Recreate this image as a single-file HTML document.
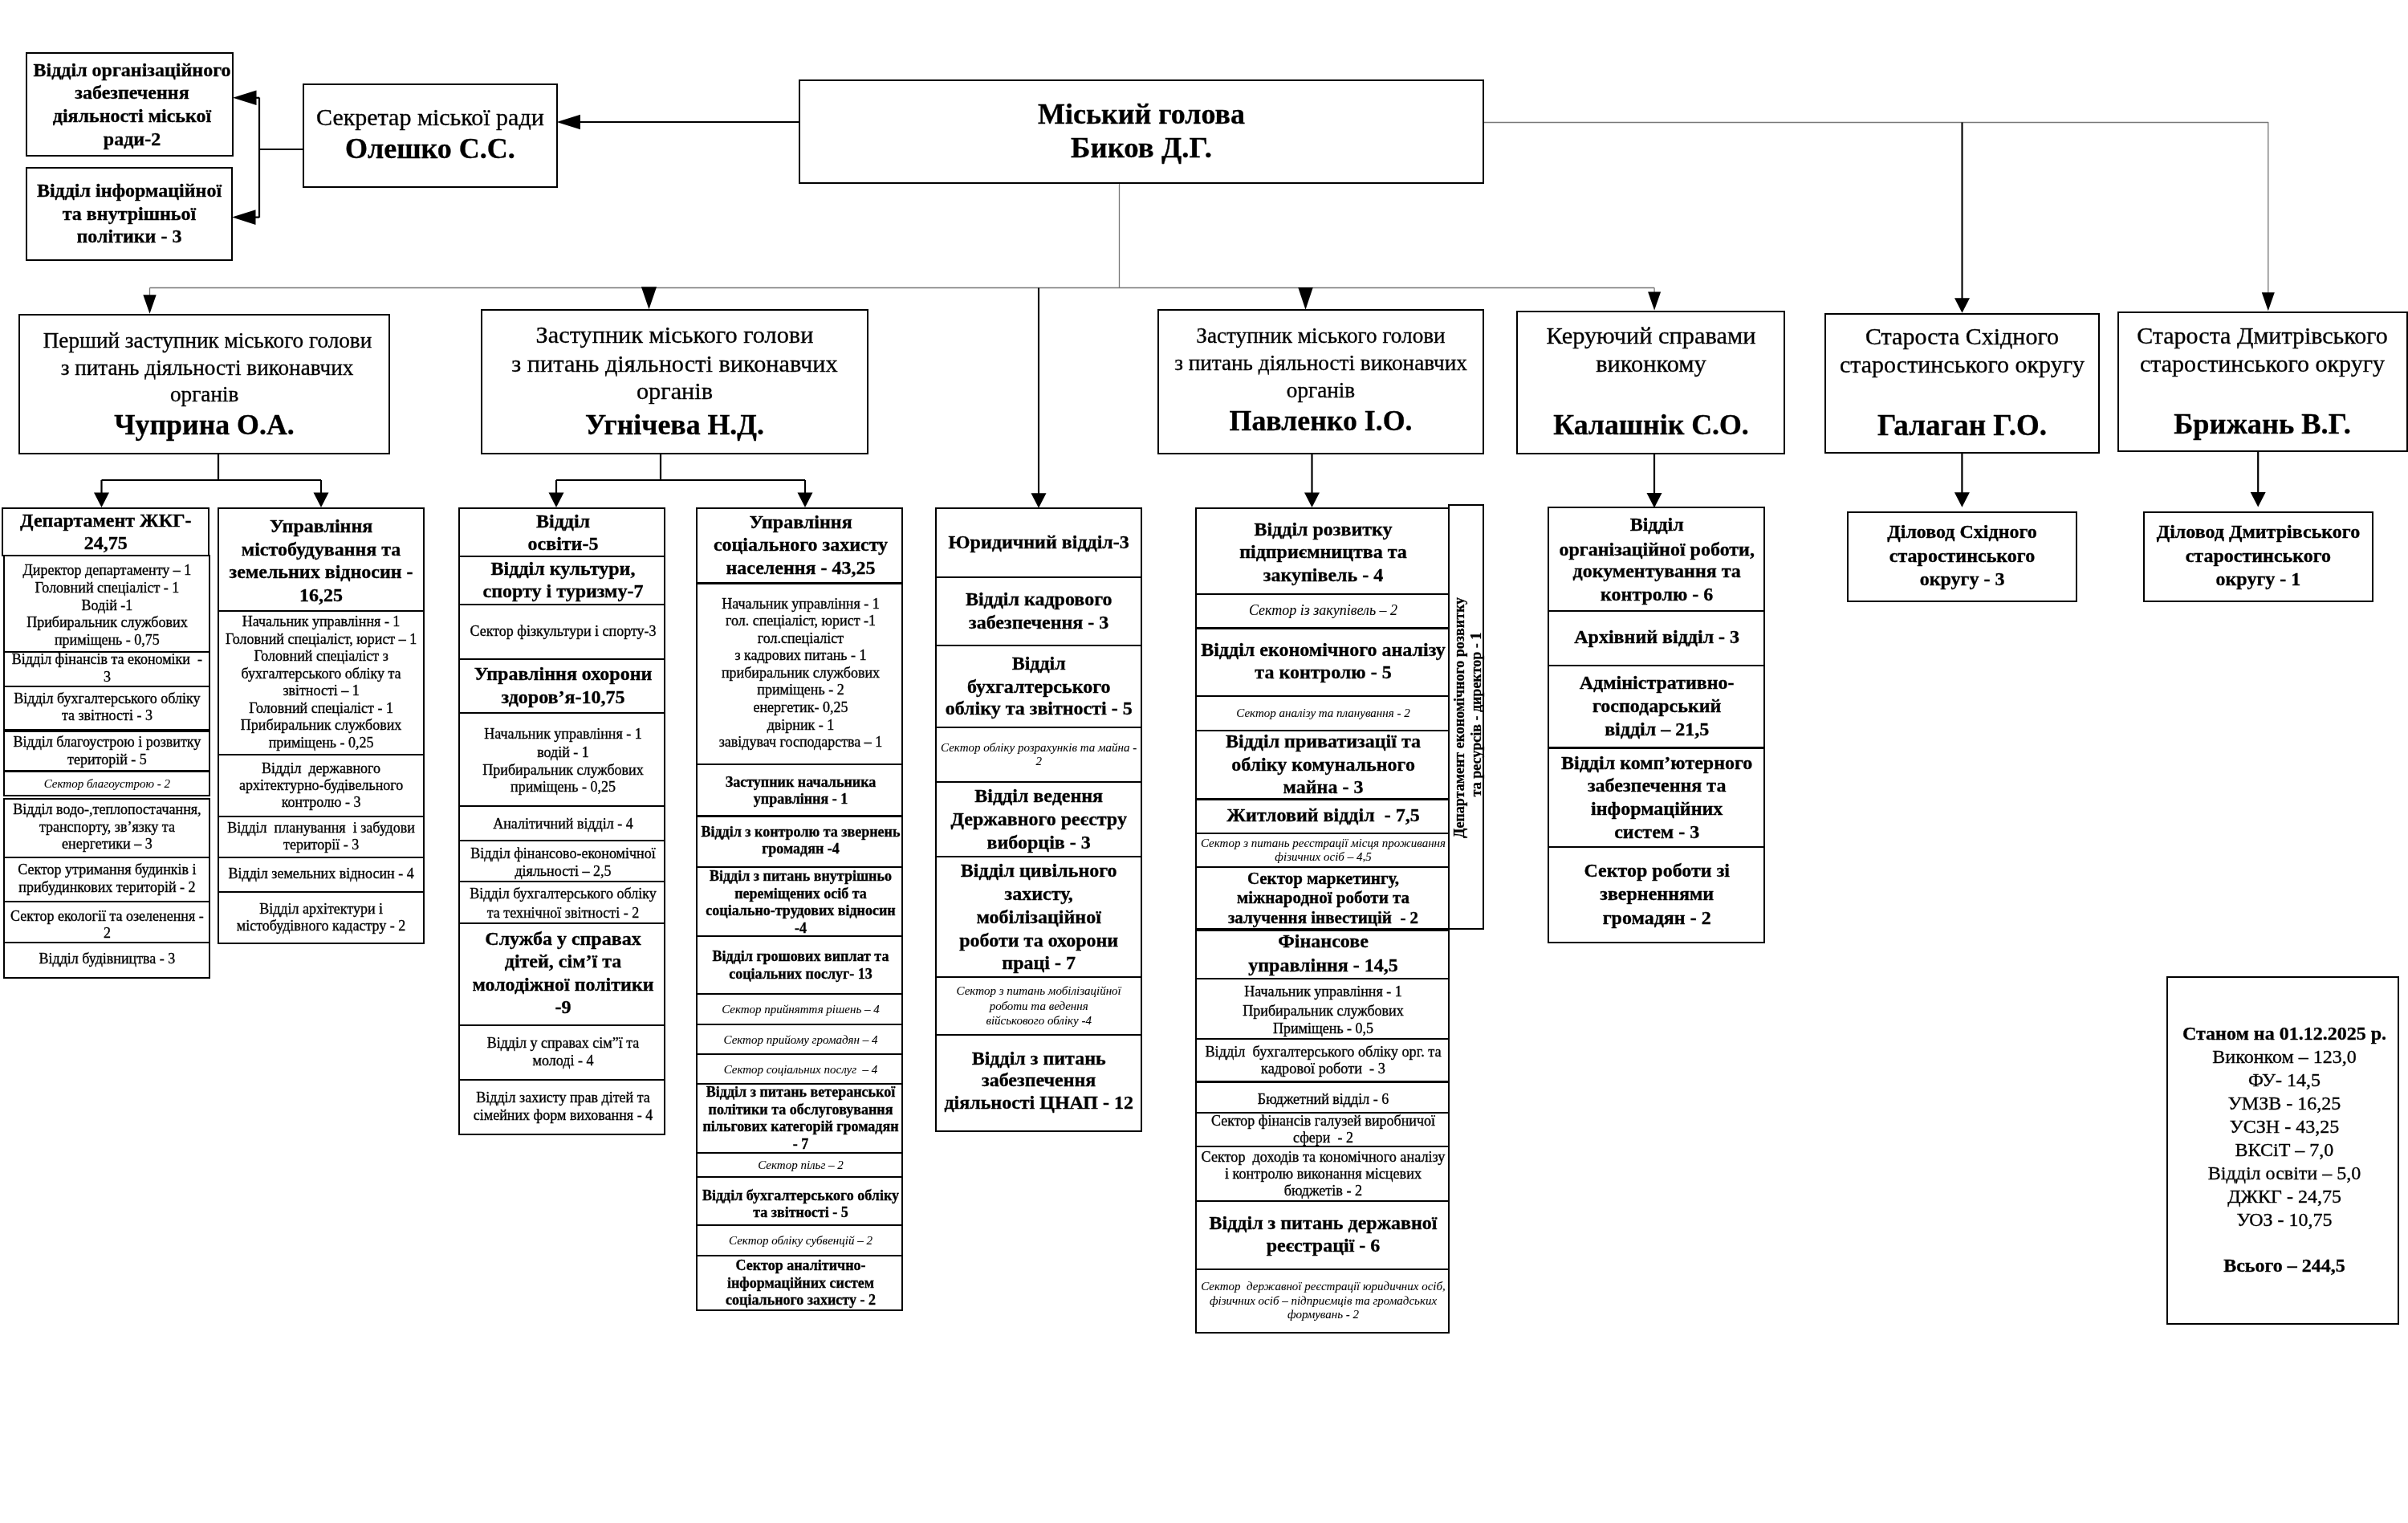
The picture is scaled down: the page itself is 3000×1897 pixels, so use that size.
<!DOCTYPE html>
<html><head><meta charset="utf-8"><style>
html,body{margin:0;padding:0;background:#fff;}
body{width:3000px;height:1897px;position:relative;overflow:hidden;-webkit-font-smoothing:antialiased;font-family:"Liberation Serif",serif;color:#000;}
.b{position:absolute;box-sizing:border-box;border-style:solid;border-color:#000;}
.t{position:absolute;-webkit-text-stroke:0.35px #000;height:0;line-height:0;text-align:center;white-space:pre;}
.v{position:absolute;-webkit-text-stroke:0.3px #000;height:0;line-height:0;text-align:center;white-space:pre;transform:rotate(-90deg);transform-origin:50% 0;}
svg{position:absolute;left:0;top:0;}
.L{position:absolute;left:0;top:0;width:3000px;height:1897px;will-change:transform;}
</style></head><body>
<svg width="3000" height="1897" viewBox="0 0 3000 1897">
<line x1="378" y1="186" x2="323" y2="186" stroke="#000" stroke-width="2.2"/>
<line x1="323" y1="121.5" x2="323" y2="271" stroke="#000" stroke-width="2.2"/>
<line x1="323" y1="121.8" x2="315" y2="121.8" stroke="#000" stroke-width="2.2"/>
<polygon points="290.0,121.8 319.5,112.5 319.5,131.1" fill="#000"/>
<line x1="323" y1="270.6" x2="315" y2="270.6" stroke="#000" stroke-width="2.2"/>
<polygon points="289.0,270.6 318.5,261.3 318.5,279.9" fill="#000"/>
<line x1="996" y1="152" x2="715" y2="152" stroke="#000" stroke-width="2.2"/>
<polygon points="693.5,152.0 723.0,142.7 723.0,161.3" fill="#000"/>
<line x1="1848" y1="152.5" x2="2826" y2="152.5" stroke="#777" stroke-width="1.3"/>
<line x1="2825.8" y1="152" x2="2825.8" y2="366" stroke="#777" stroke-width="1.3"/>
<polygon points="2817.8,364.3 2833.8,364.3 2825.8,387.3" fill="#000"/>
<line x1="2444.5" y1="152.5" x2="2444.5" y2="375" stroke="#000" stroke-width="2.1"/>
<polygon points="2435.0,371.3 2454.0,371.3 2444.5,389.8" fill="#000"/>
<line x1="1394.5" y1="228" x2="1394.5" y2="358.5" stroke="#777" stroke-width="1.3"/>
<line x1="186.5" y1="358.5" x2="2061.1" y2="358.5" stroke="#777" stroke-width="1.3"/>
<line x1="186.5" y1="358.5" x2="186.5" y2="368" stroke="#777" stroke-width="1.3"/>
<polygon points="178.3,367.2 194.7,367.2 186.5,390.8" fill="#000"/>
<polygon points="798.9,357.3 818.1,357.3 808.5,385.3" fill="#000"/>
<polygon points="1617.2,357.9 1635.8,357.9 1626.5,385.7" fill="#000"/>
<line x1="2061.1" y1="358.5" x2="2061.1" y2="365" stroke="#777" stroke-width="1.3"/>
<polygon points="2053.1,363.5 2069.1,363.5 2061.1,386.5" fill="#000"/>
<line x1="1294" y1="358.5" x2="1294" y2="620" stroke="#000" stroke-width="2.1"/>
<polygon points="1284.5,614.3 1303.5,614.3 1294.0,632.8" fill="#000"/>
<line x1="272" y1="565" x2="272" y2="598" stroke="#000" stroke-width="2.2"/>
<line x1="126.5" y1="598" x2="400" y2="598" stroke="#000" stroke-width="2.2"/>
<line x1="126.5" y1="598" x2="126.5" y2="616" stroke="#000" stroke-width="2.2"/>
<polygon points="117.0,613.5 136.0,613.5 126.5,632.0" fill="#000"/>
<line x1="400" y1="598" x2="400" y2="616" stroke="#000" stroke-width="2.2"/>
<polygon points="390.5,613.5 409.5,613.5 400.0,632.0" fill="#000"/>
<line x1="823" y1="565" x2="823" y2="598" stroke="#000" stroke-width="2.2"/>
<line x1="693" y1="598" x2="1003" y2="598" stroke="#000" stroke-width="2.2"/>
<line x1="693" y1="598" x2="693" y2="616" stroke="#000" stroke-width="2.2"/>
<polygon points="683.5,613.5 702.5,613.5 693.0,632.0" fill="#000"/>
<line x1="1003" y1="598" x2="1003" y2="616" stroke="#000" stroke-width="2.2"/>
<polygon points="993.5,613.5 1012.5,613.5 1003.0,632.0" fill="#000"/>
<line x1="1634.5" y1="565" x2="1634.5" y2="616" stroke="#000" stroke-width="2.2"/>
<polygon points="1625.0,613.5 1644.0,613.5 1634.5,632.0" fill="#000"/>
<line x1="2061" y1="565" x2="2061" y2="616" stroke="#000" stroke-width="2.2"/>
<polygon points="2051.5,613.9 2070.5,613.9 2061.0,632.4" fill="#000"/>
<line x1="2444.4" y1="564" x2="2444.4" y2="616" stroke="#000" stroke-width="2.2"/>
<polygon points="2434.9,613.2 2453.9,613.2 2444.4,631.7" fill="#000"/>
<line x1="2813.2" y1="562" x2="2813.2" y2="616" stroke="#000" stroke-width="2.2"/>
<polygon points="2803.7,612.9 2822.7,612.9 2813.2,631.4" fill="#000"/>
</svg>
<div class="L">
<div class="b" style="left:31.9px;top:64.9px;width:259.2px;height:130.2px;border-width:2.2px"></div>
<div class="b" style="left:31.9px;top:207.9px;width:258.2px;height:117.2px;border-width:2.2px"></div>
<div class="b" style="left:376.9px;top:103.9px;width:317.7px;height:129.7px;border-width:2.2px"></div>
<div class="b" style="left:994.9px;top:98.9px;width:854.2px;height:130.2px;border-width:2.2px"></div>
<div class="b" style="left:22.9px;top:390.5px;width:463.2px;height:175.6px;border-width:2.2px"></div>
<div class="b" style="left:598.9px;top:384.9px;width:483.2px;height:181.2px;border-width:2.2px"></div>
<div class="b" style="left:1441.9px;top:385.3px;width:407.2px;height:180.8px;border-width:2.2px"></div>
<div class="b" style="left:1889.4px;top:386.6px;width:335.1px;height:179.3px;border-width:2.2px"></div>
<div class="b" style="left:2272.7px;top:389.7px;width:343.7px;height:175.8px;border-width:2.2px"></div>
<div class="b" style="left:2637.5px;top:388.1px;width:362.1px;height:175.2px;border-width:2.2px"></div>
<div class="b" style="left:1.9px;top:631.9px;width:258.7px;height:61.6px;border-width:2.2px"></div>
<div class="b" style="left:3.9px;top:691.3px;width:258.0px;height:121.8px;border-width:2.2px"></div>
<div class="b" style="left:3.9px;top:810.9px;width:258.0px;height:45.2px;border-width:2.2px"></div>
<div class="b" style="left:3.9px;top:853.9px;width:258.0px;height:55.7px;border-width:2.2px"></div>
<div class="b" style="left:3.9px;top:909.7px;width:258.0px;height:51.9px;border-width:2.2px"></div>
<div class="b" style="left:3.9px;top:959.4px;width:258.0px;height:32.7px;border-width:2.2px"></div>
<div class="b" style="left:3.9px;top:993.5px;width:258.0px;height:75.3px;border-width:2.2px"></div>
<div class="b" style="left:3.9px;top:1066.6px;width:258.0px;height:57.5px;border-width:2.2px"></div>
<div class="b" style="left:3.9px;top:1121.9px;width:258.0px;height:53.2px;border-width:2.2px"></div>
<div class="b" style="left:3.9px;top:1172.9px;width:258.0px;height:45.8px;border-width:2.2px"></div>
<div class="b" style="left:270.5px;top:631.9px;width:258.1px;height:129.8px;border-width:2.2px"></div>
<div class="b" style="left:270.5px;top:759.5px;width:258.1px;height:181.6px;border-width:2.2px"></div>
<div class="b" style="left:270.5px;top:938.9px;width:258.1px;height:78.8px;border-width:2.2px"></div>
<div class="b" style="left:270.5px;top:1015.5px;width:258.1px;height:53.3px;border-width:2.2px"></div>
<div class="b" style="left:270.5px;top:1066.6px;width:258.1px;height:45.3px;border-width:2.2px"></div>
<div class="b" style="left:270.5px;top:1109.7px;width:258.1px;height:66.1px;border-width:2.2px"></div>
<div class="b" style="left:570.9px;top:632.4px;width:258.2px;height:61.4px;border-width:2.2px"></div>
<div class="b" style="left:570.9px;top:691.6px;width:258.2px;height:62.1px;border-width:2.2px"></div>
<div class="b" style="left:570.9px;top:751.5px;width:258.2px;height:70.8px;border-width:2.2px"></div>
<div class="b" style="left:570.9px;top:820.1px;width:258.2px;height:69.2px;border-width:2.2px"></div>
<div class="b" style="left:570.9px;top:887.1px;width:258.2px;height:118.4px;border-width:2.2px"></div>
<div class="b" style="left:570.9px;top:1003.3px;width:258.2px;height:44.8px;border-width:2.2px"></div>
<div class="b" style="left:570.9px;top:1045.9px;width:258.2px;height:53.5px;border-width:2.2px"></div>
<div class="b" style="left:570.9px;top:1097.2px;width:258.2px;height:54.2px;border-width:2.2px"></div>
<div class="b" style="left:570.9px;top:1149.2px;width:258.2px;height:129.1px;border-width:2.2px"></div>
<div class="b" style="left:570.9px;top:1276.1px;width:258.2px;height:70.2px;border-width:2.2px"></div>
<div class="b" style="left:570.9px;top:1344.1px;width:258.2px;height:70.2px;border-width:2.2px"></div>
<div class="b" style="left:866.9px;top:632.4px;width:258.2px;height:95.2px;border-width:2.2px"></div>
<div class="b" style="left:866.9px;top:725.4px;width:258.2px;height:227.7px;border-width:2.2px"></div>
<div class="b" style="left:866.9px;top:950.9px;width:258.2px;height:66.7px;border-width:2.2px"></div>
<div class="b" style="left:866.9px;top:1015.4px;width:258.2px;height:65.9px;border-width:2.2px"></div>
<div class="b" style="left:866.9px;top:1079.1px;width:258.2px;height:88.3px;border-width:2.2px"></div>
<div class="b" style="left:866.9px;top:1165.2px;width:258.2px;height:73.9px;border-width:2.2px"></div>
<div class="b" style="left:866.9px;top:1236.9px;width:258.2px;height:39.9px;border-width:2.2px"></div>
<div class="b" style="left:866.9px;top:1274.6px;width:258.2px;height:39.1px;border-width:2.2px"></div>
<div class="b" style="left:866.9px;top:1311.5px;width:258.2px;height:39.9px;border-width:2.2px"></div>
<div class="b" style="left:866.9px;top:1349.2px;width:258.2px;height:87.6px;border-width:2.2px"></div>
<div class="b" style="left:866.9px;top:1434.6px;width:258.2px;height:32.7px;border-width:2.2px"></div>
<div class="b" style="left:866.9px;top:1465.1px;width:258.2px;height:61.6px;border-width:2.2px"></div>
<div class="b" style="left:866.9px;top:1524.5px;width:258.2px;height:40.5px;border-width:2.2px"></div>
<div class="b" style="left:866.9px;top:1562.8px;width:258.2px;height:70.3px;border-width:2.2px"></div>
<div class="b" style="left:1165.2px;top:632.3px;width:257.9px;height:87.5px;border-width:2.2px"></div>
<div class="b" style="left:1165.2px;top:717.6px;width:257.9px;height:87.1px;border-width:2.2px"></div>
<div class="b" style="left:1165.2px;top:802.5px;width:257.9px;height:104.6px;border-width:2.2px"></div>
<div class="b" style="left:1165.2px;top:904.9px;width:257.9px;height:70.5px;border-width:2.2px"></div>
<div class="b" style="left:1165.2px;top:973.2px;width:257.9px;height:95.2px;border-width:2.2px"></div>
<div class="b" style="left:1165.2px;top:1066.2px;width:257.9px;height:152.3px;border-width:2.2px"></div>
<div class="b" style="left:1165.2px;top:1216.3px;width:257.9px;height:74.1px;border-width:2.2px"></div>
<div class="b" style="left:1165.2px;top:1288.2px;width:257.9px;height:121.5px;border-width:2.2px"></div>
<div class="b" style="left:1488.9px;top:631.9px;width:317.2px;height:109.1px;border-width:2.2px"></div>
<div class="b" style="left:1488.9px;top:738.8px;width:317.2px;height:44.8px;border-width:2.2px"></div>
<div class="b" style="left:1488.9px;top:781.4px;width:317.2px;height:87.0px;border-width:2.2px"></div>
<div class="b" style="left:1488.9px;top:866.2px;width:317.2px;height:45.1px;border-width:2.2px"></div>
<div class="b" style="left:1488.9px;top:909.1px;width:317.2px;height:87.5px;border-width:2.2px"></div>
<div class="b" style="left:1488.9px;top:994.4px;width:317.2px;height:44.4px;border-width:2.2px"></div>
<div class="b" style="left:1488.9px;top:1036.6px;width:317.2px;height:44.9px;border-width:2.2px"></div>
<div class="b" style="left:1488.9px;top:1079.3px;width:317.2px;height:78.5px;border-width:2.2px"></div>
<div class="b" style="left:1488.9px;top:1157.9px;width:317.2px;height:62.0px;border-width:2.2px"></div>
<div class="b" style="left:1488.9px;top:1217.7px;width:317.2px;height:77.0px;border-width:2.2px"></div>
<div class="b" style="left:1488.9px;top:1292.5px;width:317.2px;height:56.1px;border-width:2.2px"></div>
<div class="b" style="left:1488.9px;top:1346.4px;width:317.2px;height:40.7px;border-width:2.2px"></div>
<div class="b" style="left:1488.9px;top:1384.9px;width:317.2px;height:44.2px;border-width:2.2px"></div>
<div class="b" style="left:1488.9px;top:1426.9px;width:317.2px;height:70.5px;border-width:2.2px"></div>
<div class="b" style="left:1488.9px;top:1495.2px;width:317.2px;height:87.3px;border-width:2.2px"></div>
<div class="b" style="left:1488.9px;top:1580.3px;width:317.2px;height:81.0px;border-width:2.2px"></div>
<div class="b" style="left:1804.4px;top:627.9px;width:45.1px;height:530.6px;border-width:2.2px"></div>
<div class="b" style="left:1927.9px;top:631.3px;width:270.7px;height:130.5px;border-width:2.2px"></div>
<div class="b" style="left:1927.9px;top:759.6px;width:270.7px;height:70.2px;border-width:2.2px"></div>
<div class="b" style="left:1927.9px;top:827.6px;width:270.7px;height:105.0px;border-width:2.2px"></div>
<div class="b" style="left:1927.9px;top:930.4px;width:270.7px;height:126.0px;border-width:2.2px"></div>
<div class="b" style="left:1927.9px;top:1054.2px;width:270.7px;height:121.3px;border-width:2.2px"></div>
<div class="b" style="left:2300.9px;top:636.9px;width:287.2px;height:113.0px;border-width:2.2px"></div>
<div class="b" style="left:2669.8px;top:636.9px;width:287.3px;height:113.0px;border-width:2.2px"></div>
<div class="b" style="left:2699.4px;top:1216.2px;width:290.0px;height:434.1px;border-width:2.2px"></div>
<div class="t" style="left:-135.5px;top:86.6px;width:600px;font-size:24px;font-weight:bold;">Відділ організаційного</div>
<div class="t" style="left:-135.5px;top:115.2px;width:600px;font-size:24px;font-weight:bold;">забезпечення</div>
<div class="t" style="left:-135.5px;top:143.9px;width:600px;font-size:24px;font-weight:bold;">діяльності міської</div>
<div class="t" style="left:-135.5px;top:172.5px;width:600px;font-size:24px;font-weight:bold;">ради-2</div>
<div class="t" style="left:-139.0px;top:236.9px;width:600px;font-size:24px;font-weight:bold;">Відділ інформаційної</div>
<div class="t" style="left:-139.0px;top:265.9px;width:600px;font-size:24px;font-weight:bold;">та внутрішньої</div>
<div class="t" style="left:-139.0px;top:294.2px;width:600px;font-size:24px;font-weight:bold;">політики - 3</div>
<div class="t" style="left:235.9px;top:145.9px;width:600px;font-size:30px;">Секретар міської ради</div>
<div class="t" style="left:235.9px;top:185.2px;width:600px;font-size:36px;font-weight:bold;">Олешко С.С.</div>
<div class="t" style="left:1122.0px;top:141.6px;width:600px;font-size:36px;font-weight:bold;">Міський голова</div>
<div class="t" style="left:1122.0px;top:183.6px;width:600px;font-size:36.8px;font-weight:bold;">Биков Д.Г.</div>
<div class="t" style="left:-41.5px;top:424.4px;width:600px;font-size:27.2px;">Перший заступник міського голови</div>
<div class="t" style="left:-42.0px;top:457.8px;width:600px;font-size:27.2px;">з питань діяльності виконавчих</div>
<div class="t" style="left:-45.3px;top:490.7px;width:600px;font-size:27.2px;">органів</div>
<div class="t" style="left:-45.5px;top:528.9px;width:600px;font-size:35.8px;font-weight:bold;">Чуприна О.А.</div>
<div class="t" style="left:540.5px;top:416.6px;width:600px;font-size:30.3px;">Заступник міського голови</div>
<div class="t" style="left:540.5px;top:453.1px;width:600px;font-size:30.3px;">з питань діяльності виконавчих</div>
<div class="t" style="left:540.5px;top:487.4px;width:600px;font-size:30.3px;">органів</div>
<div class="t" style="left:540.5px;top:528.9px;width:600px;font-size:35.8px;font-weight:bold;">Угнічева Н.Д.</div>
<div class="t" style="left:1345.5px;top:418.3px;width:600px;font-size:27.2px;">Заступник міського голови</div>
<div class="t" style="left:1345.5px;top:451.5px;width:600px;font-size:27.2px;">з питань діяльності виконавчих</div>
<div class="t" style="left:1345.5px;top:485.8px;width:600px;font-size:27.2px;">органів</div>
<div class="t" style="left:1345.5px;top:524.4px;width:600px;font-size:35.8px;font-weight:bold;">Павленко І.О.</div>
<div class="t" style="left:1757.0px;top:418.0px;width:600px;font-size:30.4px;">Керуючий справами</div>
<div class="t" style="left:1757.0px;top:452.5px;width:600px;font-size:30.4px;">виконкому</div>
<div class="t" style="left:1757.0px;top:528.7px;width:600px;font-size:35.8px;font-weight:bold;">Калашнік С.О.</div>
<div class="t" style="left:2144.5px;top:419.1px;width:600px;font-size:30px;">Староста Східного</div>
<div class="t" style="left:2144.5px;top:454.4px;width:600px;font-size:30px;">старостинського округу</div>
<div class="t" style="left:2144.5px;top:529.8px;width:600px;font-size:37px;font-weight:bold;">Галаган Г.О.</div>
<div class="t" style="left:2518.5px;top:417.5px;width:600px;font-size:30px;">Староста Дмитрівського</div>
<div class="t" style="left:2518.5px;top:452.9px;width:600px;font-size:30px;">старостинського округу</div>
<div class="t" style="left:2518.5px;top:528.1px;width:600px;font-size:36.4px;font-weight:bold;">Брижань В.Г.</div>
<div class="t" style="left:-168.2px;top:647.8px;width:600px;font-size:24px;font-weight:bold;">Департамент ЖКГ-</div>
<div class="t" style="left:-168.2px;top:676.3px;width:600px;font-size:24px;font-weight:bold;">24,75</div>
<div class="t" style="left:-166.6px;top:709.9px;width:600px;font-size:18px;">Директор департаменту – 1</div>
<div class="t" style="left:-166.6px;top:731.7px;width:600px;font-size:18px;">Головний спеціаліст - 1</div>
<div class="t" style="left:-166.6px;top:753.5px;width:600px;font-size:18px;">Водій -1</div>
<div class="t" style="left:-166.6px;top:775.3px;width:600px;font-size:18px;">Прибиральник службових</div>
<div class="t" style="left:-166.6px;top:797.1px;width:600px;font-size:18px;">приміщень - 0,75</div>
<div class="t" style="left:-166.6px;top:821.3px;width:600px;font-size:18px;">Відділ фінансів та економіки  -</div>
<div class="t" style="left:-166.6px;top:842.7px;width:600px;font-size:18px;">3</div>
<div class="t" style="left:-166.6px;top:869.6px;width:600px;font-size:18px;">Відділ бухгалтерського обліку</div>
<div class="t" style="left:-166.6px;top:890.9px;width:600px;font-size:18px;">та звітності - 3</div>
<div class="t" style="left:-166.6px;top:924.2px;width:600px;font-size:18px;">Відділ благоустрою і розвитку</div>
<div class="t" style="left:-166.6px;top:945.5px;width:600px;font-size:18px;">територій - 5</div>
<div class="t" style="left:-166.6px;top:975.6px;width:600px;font-size:15px;font-style:italic;-webkit-text-stroke:0.08px #000;">Сектор благоустрою - 2</div>
<div class="t" style="left:-166.6px;top:1008.3px;width:600px;font-size:18px;">Відділ водо-,теплопостачання,</div>
<div class="t" style="left:-166.6px;top:1029.6px;width:600px;font-size:18px;">транспорту, зв’язку та</div>
<div class="t" style="left:-166.6px;top:1050.9px;width:600px;font-size:18px;">енергетики – 3</div>
<div class="t" style="left:-166.6px;top:1083.4px;width:600px;font-size:18px;">Сектор утримання будинків і</div>
<div class="t" style="left:-166.6px;top:1104.7px;width:600px;font-size:18px;">прибудинкових територій - 2</div>
<div class="t" style="left:-166.6px;top:1140.6px;width:600px;font-size:18px;">Сектор екології та озеленення -</div>
<div class="t" style="left:-166.6px;top:1161.9px;width:600px;font-size:18px;">2</div>
<div class="t" style="left:-166.6px;top:1194.4px;width:600px;font-size:18px;">Відділ будівництва - 3</div>
<div class="t" style="left:100.1px;top:654.5px;width:600px;font-size:24px;font-weight:bold;">Управління</div>
<div class="t" style="left:100.1px;top:683.7px;width:600px;font-size:24px;font-weight:bold;">містобудування та</div>
<div class="t" style="left:100.1px;top:712.1px;width:600px;font-size:24px;font-weight:bold;">земельних відносин -</div>
<div class="t" style="left:100.1px;top:741.3px;width:600px;font-size:24px;font-weight:bold;">16,25</div>
<div class="t" style="left:100.1px;top:774.2px;width:600px;font-size:18px;">Начальник управління - 1</div>
<div class="t" style="left:100.1px;top:795.7px;width:600px;font-size:18px;">Головний спеціаліст, юрист – 1</div>
<div class="t" style="left:100.1px;top:817.2px;width:600px;font-size:18px;">Головний спеціаліст з</div>
<div class="t" style="left:100.1px;top:838.6px;width:600px;font-size:18px;">бухгалтерського обліку та</div>
<div class="t" style="left:100.1px;top:860.1px;width:600px;font-size:18px;">звітності – 1</div>
<div class="t" style="left:100.1px;top:881.6px;width:600px;font-size:18px;">Головний спеціаліст - 1</div>
<div class="t" style="left:100.1px;top:903.0px;width:600px;font-size:18px;">Прибиральник службових</div>
<div class="t" style="left:100.1px;top:924.5px;width:600px;font-size:18px;">приміщень - 0,25</div>
<div class="t" style="left:100.1px;top:956.7px;width:600px;font-size:18px;">Відділ  державного</div>
<div class="t" style="left:100.1px;top:978.0px;width:600px;font-size:18px;">архітектурно-будівельного</div>
<div class="t" style="left:100.1px;top:999.3px;width:600px;font-size:18px;">контролю - 3</div>
<div class="t" style="left:100.1px;top:1030.7px;width:600px;font-size:18px;">Відділ  планування  і забудови</div>
<div class="t" style="left:100.1px;top:1052.0px;width:600px;font-size:18px;">території - 3</div>
<div class="t" style="left:100.1px;top:1087.9px;width:600px;font-size:18px;">Відділ земельних відносин - 4</div>
<div class="t" style="left:100.1px;top:1131.6px;width:600px;font-size:18px;">Відділ архітектури і</div>
<div class="t" style="left:100.1px;top:1152.9px;width:600px;font-size:18px;">містобудівного кадастру - 2</div>
<div class="t" style="left:401.5px;top:648.6px;width:600px;font-size:24px;font-weight:bold;">Відділ</div>
<div class="t" style="left:401.5px;top:677.0px;width:600px;font-size:24px;font-weight:bold;">освіти-5</div>
<div class="t" style="left:401.5px;top:707.8px;width:600px;font-size:24px;font-weight:bold;">Відділ культури,</div>
<div class="t" style="left:401.5px;top:736.2px;width:600px;font-size:24px;font-weight:bold;">спорту і туризму-7</div>
<div class="t" style="left:401.5px;top:785.5px;width:600px;font-size:18px;">Сектор фізкультури і спорту-3</div>
<div class="t" style="left:401.5px;top:839.1px;width:600px;font-size:24px;font-weight:bold;">Управління охорони</div>
<div class="t" style="left:401.5px;top:867.5px;width:600px;font-size:24px;font-weight:bold;">здоров’я-10,75</div>
<div class="t" style="left:401.5px;top:913.9px;width:600px;font-size:18px;">Начальник управління - 1</div>
<div class="t" style="left:401.5px;top:937.4px;width:600px;font-size:18px;">водій - 1</div>
<div class="t" style="left:401.5px;top:958.9px;width:600px;font-size:18px;">Прибиральник службових</div>
<div class="t" style="left:401.5px;top:980.4px;width:600px;font-size:18px;">приміщень - 0,25</div>
<div class="t" style="left:401.5px;top:1026.4px;width:600px;font-size:18px;">Аналітичний відділ - 4</div>
<div class="t" style="left:401.5px;top:1062.6px;width:600px;font-size:18px;">Відділ фінансово-економічної</div>
<div class="t" style="left:401.5px;top:1085.3px;width:600px;font-size:18px;">діяльності – 2,5</div>
<div class="t" style="left:401.5px;top:1113.4px;width:600px;font-size:18px;">Відділ бухгалтерського обліку</div>
<div class="t" style="left:401.5px;top:1136.6px;width:600px;font-size:18px;">та технічної звітності - 2</div>
<div class="t" style="left:401.5px;top:1168.8px;width:600px;font-size:24px;font-weight:bold;">Служба у справах</div>
<div class="t" style="left:401.5px;top:1197.2px;width:600px;font-size:24px;font-weight:bold;">дітей, сім’ї та</div>
<div class="t" style="left:401.5px;top:1225.6px;width:600px;font-size:24px;font-weight:bold;">молодіжної політики</div>
<div class="t" style="left:401.5px;top:1254.0px;width:600px;font-size:24px;font-weight:bold;">-9</div>
<div class="t" style="left:401.5px;top:1298.9px;width:600px;font-size:18px;">Відділ у справах сім”ї та</div>
<div class="t" style="left:401.5px;top:1320.9px;width:600px;font-size:18px;">молоді - 4</div>
<div class="t" style="left:401.5px;top:1367.1px;width:600px;font-size:18px;">Відділ захисту прав дітей та</div>
<div class="t" style="left:401.5px;top:1388.9px;width:600px;font-size:18px;">сімейних форм виховання - 4</div>
<div class="t" style="left:697.5px;top:649.8px;width:600px;font-size:24px;font-weight:bold;">Управління</div>
<div class="t" style="left:697.5px;top:678.2px;width:600px;font-size:24px;font-weight:bold;">соціального захисту</div>
<div class="t" style="left:697.5px;top:706.6px;width:600px;font-size:24px;font-weight:bold;">населення - 43,25</div>
<div class="t" style="left:697.5px;top:751.7px;width:600px;font-size:18px;">Начальник управління - 1</div>
<div class="t" style="left:697.5px;top:773.3px;width:600px;font-size:18px;">гол. спеціаліст, юрист -1</div>
<div class="t" style="left:697.5px;top:794.8px;width:600px;font-size:18px;">гол.спеціаліст</div>
<div class="t" style="left:697.5px;top:816.3px;width:600px;font-size:18px;">з кадрових питань - 1</div>
<div class="t" style="left:697.5px;top:837.9px;width:600px;font-size:18px;">прибиральник службових</div>
<div class="t" style="left:697.5px;top:859.4px;width:600px;font-size:18px;">приміщень - 2</div>
<div class="t" style="left:697.5px;top:881.0px;width:600px;font-size:18px;">енергетик- 0,25</div>
<div class="t" style="left:697.5px;top:902.5px;width:600px;font-size:18px;">двірник - 1</div>
<div class="t" style="left:697.5px;top:924.0px;width:600px;font-size:18px;">завідувач господарства – 1</div>
<div class="t" style="left:697.5px;top:973.5px;width:600px;font-size:18px;font-weight:bold;">Заступник начальника</div>
<div class="t" style="left:697.5px;top:994.7px;width:600px;font-size:18px;font-weight:bold;">управління - 1</div>
<div class="t" style="left:697.5px;top:1035.5px;width:600px;font-size:18px;font-weight:bold;">Відділ з контролю та звернень</div>
<div class="t" style="left:697.5px;top:1057.2px;width:600px;font-size:18px;font-weight:bold;">громадян -4</div>
<div class="t" style="left:697.5px;top:1091.3px;width:600px;font-size:18px;font-weight:bold;">Відділ з питань внутрішньо</div>
<div class="t" style="left:697.5px;top:1112.7px;width:600px;font-size:18px;font-weight:bold;">переміщених осіб та</div>
<div class="t" style="left:697.5px;top:1134.1px;width:600px;font-size:18px;font-weight:bold;">соціально-трудових відносин</div>
<div class="t" style="left:697.5px;top:1155.5px;width:600px;font-size:18px;font-weight:bold;">-4</div>
<div class="t" style="left:697.5px;top:1191.0px;width:600px;font-size:18px;font-weight:bold;">Відділ грошових виплат та</div>
<div class="t" style="left:697.5px;top:1213.1px;width:600px;font-size:18px;font-weight:bold;">соціальних послуг- 13</div>
<div class="t" style="left:697.5px;top:1256.9px;width:600px;font-size:15px;font-style:italic;-webkit-text-stroke:0.08px #000;">Сектор прийняття рішень – 4</div>
<div class="t" style="left:697.5px;top:1294.7px;width:600px;font-size:15px;font-style:italic;-webkit-text-stroke:0.08px #000;">Сектор прийому громадян – 4</div>
<div class="t" style="left:697.5px;top:1331.6px;width:600px;font-size:15px;font-style:italic;-webkit-text-stroke:0.08px #000;">Сектор соціальних послуг  – 4</div>
<div class="t" style="left:697.5px;top:1360.4px;width:600px;font-size:18px;font-weight:bold;">Відділ з питань ветеранської</div>
<div class="t" style="left:697.5px;top:1381.8px;width:600px;font-size:18px;font-weight:bold;">політики та обслуговування</div>
<div class="t" style="left:697.5px;top:1403.2px;width:600px;font-size:18px;font-weight:bold;">пільгових категорій громадян</div>
<div class="t" style="left:697.5px;top:1424.6px;width:600px;font-size:18px;font-weight:bold;">- 7</div>
<div class="t" style="left:697.5px;top:1450.9px;width:600px;font-size:15px;font-style:italic;-webkit-text-stroke:0.08px #000;">Сектор пільг – 2</div>
<div class="t" style="left:697.5px;top:1488.6px;width:600px;font-size:18px;font-weight:bold;">Відділ бухгалтерського обліку</div>
<div class="t" style="left:697.5px;top:1509.9px;width:600px;font-size:18px;font-weight:bold;">та звітності - 5</div>
<div class="t" style="left:697.5px;top:1544.5px;width:600px;font-size:15px;font-style:italic;-webkit-text-stroke:0.08px #000;">Сектор обліку субвенцій – 2</div>
<div class="t" style="left:697.5px;top:1576.1px;width:600px;font-size:18px;font-weight:bold;">Сектор аналітично-</div>
<div class="t" style="left:697.5px;top:1597.5px;width:600px;font-size:18px;font-weight:bold;">інформаційних систем</div>
<div class="t" style="left:697.5px;top:1618.9px;width:600px;font-size:18px;font-weight:bold;">соціального захисту - 2</div>
<div class="t" style="left:994.2px;top:675.4px;width:600px;font-size:24px;font-weight:bold;">Юридичний відділ-3</div>
<div class="t" style="left:994.2px;top:745.6px;width:600px;font-size:24px;font-weight:bold;">Відділ кадрового</div>
<div class="t" style="left:994.2px;top:774.5px;width:600px;font-size:24px;font-weight:bold;">забезпечення - 3</div>
<div class="t" style="left:994.2px;top:825.7px;width:600px;font-size:24px;font-weight:bold;">Відділ</div>
<div class="t" style="left:994.2px;top:854.6px;width:600px;font-size:24px;font-weight:bold;">бухгалтерського</div>
<div class="t" style="left:994.2px;top:882.2px;width:600px;font-size:24px;font-weight:bold;">обліку та звітності - 5</div>
<div class="t" style="left:994.2px;top:931.1px;width:600px;font-size:15px;font-style:italic;-webkit-text-stroke:0.08px #000;">Сектор обліку розрахунків та майна -</div>
<div class="t" style="left:994.2px;top:948.2px;width:600px;font-size:15px;font-style:italic;-webkit-text-stroke:0.08px #000;">2</div>
<div class="t" style="left:994.2px;top:991.2px;width:600px;font-size:24px;font-weight:bold;">Відділ ведення</div>
<div class="t" style="left:994.2px;top:1019.9px;width:600px;font-size:24px;font-weight:bold;">Державного реєстру</div>
<div class="t" style="left:994.2px;top:1048.6px;width:600px;font-size:24px;font-weight:bold;">виборців - 3</div>
<div class="t" style="left:994.2px;top:1084.2px;width:600px;font-size:24px;font-weight:bold;">Відділ цивільного</div>
<div class="t" style="left:994.2px;top:1113.0px;width:600px;font-size:24px;font-weight:bold;">захисту,</div>
<div class="t" style="left:994.2px;top:1141.7px;width:600px;font-size:24px;font-weight:bold;">мобілізаційної</div>
<div class="t" style="left:994.2px;top:1170.5px;width:600px;font-size:24px;font-weight:bold;">роботи та охорони</div>
<div class="t" style="left:994.2px;top:1199.2px;width:600px;font-size:24px;font-weight:bold;">праці - 7</div>
<div class="t" style="left:994.2px;top:1234.4px;width:600px;font-size:15px;font-style:italic;-webkit-text-stroke:0.08px #000;">Сектор з питань мобілізаційної</div>
<div class="t" style="left:994.2px;top:1252.5px;width:600px;font-size:15px;font-style:italic;-webkit-text-stroke:0.08px #000;">роботи та ведення</div>
<div class="t" style="left:994.2px;top:1270.6px;width:600px;font-size:15px;font-style:italic;-webkit-text-stroke:0.08px #000;">військового обліку -4</div>
<div class="t" style="left:994.2px;top:1317.5px;width:600px;font-size:24px;font-weight:bold;">Відділ з питань</div>
<div class="t" style="left:994.2px;top:1345.4px;width:600px;font-size:24px;font-weight:bold;">забезпечення</div>
<div class="t" style="left:994.2px;top:1373.3px;width:600px;font-size:24px;font-weight:bold;">діяльності ЦНАП - 12</div>
<div class="t" style="left:1348.5px;top:658.8px;width:600px;font-size:24px;font-weight:bold;">Відділ розвитку</div>
<div class="t" style="left:1348.5px;top:686.7px;width:600px;font-size:24px;font-weight:bold;">підприємництва та</div>
<div class="t" style="left:1348.5px;top:715.7px;width:600px;font-size:24px;font-weight:bold;">закупівель - 4</div>
<div class="t" style="left:1348.5px;top:760.1px;width:600px;font-size:18px;font-style:italic;-webkit-text-stroke:0.08px #000;">Сектор із закупівель – 2</div>
<div class="t" style="left:1348.5px;top:809.4px;width:600px;font-size:24px;font-weight:bold;">Відділ економічного аналізу</div>
<div class="t" style="left:1348.5px;top:837.3px;width:600px;font-size:24px;font-weight:bold;">та контролю - 5</div>
<div class="t" style="left:1348.5px;top:888.3px;width:600px;font-size:15px;font-style:italic;-webkit-text-stroke:0.08px #000;">Сектор аналізу та планування - 2</div>
<div class="t" style="left:1348.5px;top:923.2px;width:600px;font-size:24px;font-weight:bold;">Відділ приватизації та</div>
<div class="t" style="left:1348.5px;top:952.2px;width:600px;font-size:24px;font-weight:bold;">обліку комунального</div>
<div class="t" style="left:1348.5px;top:980.1px;width:600px;font-size:24px;font-weight:bold;">майна - 3</div>
<div class="t" style="left:1348.5px;top:1014.7px;width:600px;font-size:24px;font-weight:bold;">Житловий відділ  - 7,5</div>
<div class="t" style="left:1348.5px;top:1049.6px;width:600px;font-size:15px;font-style:italic;-webkit-text-stroke:0.08px #000;">Сектор з питань реєстрації місця проживання</div>
<div class="t" style="left:1348.5px;top:1067.4px;width:600px;font-size:15px;font-style:italic;-webkit-text-stroke:0.08px #000;">фізичних осіб – 4,5</div>
<div class="t" style="left:1348.5px;top:1093.8px;width:600px;font-size:21px;font-weight:bold;">Сектор маркетингу,</div>
<div class="t" style="left:1348.5px;top:1118.3px;width:600px;font-size:21px;font-weight:bold;">міжнародної роботи та</div>
<div class="t" style="left:1348.5px;top:1142.9px;width:600px;font-size:21px;font-weight:bold;">залучення інвестицій  - 2</div>
<div class="t" style="left:1348.5px;top:1172.0px;width:600px;font-size:24px;font-weight:bold;">Фінансове</div>
<div class="t" style="left:1348.5px;top:1202.2px;width:600px;font-size:24px;font-weight:bold;">управління - 14,5</div>
<div class="t" style="left:1348.5px;top:1234.9px;width:600px;font-size:18px;">Начальник управління - 1</div>
<div class="t" style="left:1348.5px;top:1258.5px;width:600px;font-size:18px;">Прибиральник службових</div>
<div class="t" style="left:1348.5px;top:1280.6px;width:600px;font-size:18px;">Приміщень - 0,5</div>
<div class="t" style="left:1348.5px;top:1309.5px;width:600px;font-size:18.3px;">Відділ  бухгалтерського обліку орг. та</div>
<div class="t" style="left:1348.5px;top:1330.9px;width:600px;font-size:18.3px;">кадрової роботи  - 3</div>
<div class="t" style="left:1348.5px;top:1368.9px;width:600px;font-size:18px;">Бюджетний відділ - 6</div>
<div class="t" style="left:1348.5px;top:1395.6px;width:600px;font-size:18px;">Сектор фінансів галузей виробничої</div>
<div class="t" style="left:1348.5px;top:1416.8px;width:600px;font-size:18px;">сфери  - 2</div>
<div class="t" style="left:1348.5px;top:1440.7px;width:600px;font-size:18.2px;">Сектор  доходів та кономічного аналізу</div>
<div class="t" style="left:1348.5px;top:1462.0px;width:600px;font-size:18.2px;">і контролю виконання місцевих</div>
<div class="t" style="left:1348.5px;top:1483.3px;width:600px;font-size:18.2px;">бюджетів - 2</div>
<div class="t" style="left:1348.5px;top:1522.9px;width:600px;font-size:24px;font-weight:bold;">Відділ з питань державної</div>
<div class="t" style="left:1348.5px;top:1551.2px;width:600px;font-size:24px;font-weight:bold;">реєстрації - 6</div>
<div class="t" style="left:1348.5px;top:1601.9px;width:600px;font-size:15px;font-style:italic;-webkit-text-stroke:0.08px #000;">Сектор  державної реєстрації юридичних осіб,</div>
<div class="t" style="left:1348.5px;top:1619.9px;width:600px;font-size:15px;font-style:italic;-webkit-text-stroke:0.08px #000;">фізичних осіб – підприємців та громадських</div>
<div class="t" style="left:1348.5px;top:1637.4px;width:600px;font-size:15px;font-style:italic;-webkit-text-stroke:0.08px #000;">формувань - 2</div>
<div class="v" style="left:1518.2px;top:893.5px;width:600px;font-size:18px;font-weight:bold">Департамент економічного розвитку</div>
<div class="v" style="left:1538.9px;top:890.0px;width:600px;font-size:18px;font-weight:bold">та ресурсів - директор - 1</div>
<div class="t" style="left:1764.2px;top:653.3px;width:600px;font-size:24px;font-weight:bold;">Відділ</div>
<div class="t" style="left:1764.2px;top:683.6px;width:600px;font-size:24px;font-weight:bold;">організаційної роботи,</div>
<div class="t" style="left:1764.2px;top:711.2px;width:600px;font-size:24px;font-weight:bold;">документування та</div>
<div class="t" style="left:1764.2px;top:740.2px;width:600px;font-size:24px;font-weight:bold;">контролю - 6</div>
<div class="t" style="left:1764.2px;top:793.4px;width:600px;font-size:24px;font-weight:bold;">Архівний відділ - 3</div>
<div class="t" style="left:1764.2px;top:850.1px;width:600px;font-size:24px;font-weight:bold;">Адміністративно-</div>
<div class="t" style="left:1764.2px;top:878.8px;width:600px;font-size:24px;font-weight:bold;">господарський</div>
<div class="t" style="left:1764.2px;top:907.7px;width:600px;font-size:24px;font-weight:bold;">відділ – 21,5</div>
<div class="t" style="left:1764.2px;top:950.0px;width:600px;font-size:24px;font-weight:bold;">Відділ комп’ютерного</div>
<div class="t" style="left:1764.2px;top:978.1px;width:600px;font-size:24px;font-weight:bold;">забезпечення та</div>
<div class="t" style="left:1764.2px;top:1007.3px;width:600px;font-size:24px;font-weight:bold;">інформаційних</div>
<div class="t" style="left:1764.2px;top:1035.7px;width:600px;font-size:24px;font-weight:bold;">систем - 3</div>
<div class="t" style="left:1764.2px;top:1084.4px;width:600px;font-size:24px;font-weight:bold;">Сектор роботи зі</div>
<div class="t" style="left:1764.2px;top:1113.1px;width:600px;font-size:24px;font-weight:bold;">зверненнями</div>
<div class="t" style="left:1764.2px;top:1142.7px;width:600px;font-size:24px;font-weight:bold;">громадян - 2</div>
<div class="t" style="left:2144.5px;top:662.3px;width:600px;font-size:24px;font-weight:bold;">Діловод Східного</div>
<div class="t" style="left:2144.5px;top:692.1px;width:600px;font-size:24px;font-weight:bold;">старостинського</div>
<div class="t" style="left:2144.5px;top:720.7px;width:600px;font-size:24px;font-weight:bold;">округу - 3</div>
<div class="t" style="left:2513.4px;top:662.3px;width:600px;font-size:24px;font-weight:bold;">Діловод Дмитрівського</div>
<div class="t" style="left:2513.4px;top:692.1px;width:600px;font-size:24px;font-weight:bold;">старостинського</div>
<div class="t" style="left:2513.4px;top:720.7px;width:600px;font-size:24px;font-weight:bold;">округу - 1</div>
<div class="t" style="left:2546.0px;top:1286.5px;width:600px;font-size:24px;font-weight:bold;">Станом на 01.12.2025 р.</div>
<div class="t" style="left:2546.0px;top:1316.4px;width:600px;font-size:24px;">Виконком – 123,0</div>
<div class="t" style="left:2546.0px;top:1345.3px;width:600px;font-size:24px;">ФУ- 14,5</div>
<div class="t" style="left:2546.0px;top:1374.2px;width:600px;font-size:24px;">УМЗВ - 16,25</div>
<div class="t" style="left:2546.0px;top:1403.1px;width:600px;font-size:24px;">УСЗН - 43,25</div>
<div class="t" style="left:2546.0px;top:1432.0px;width:600px;font-size:24px;">ВКСіТ – 7,0</div>
<div class="t" style="left:2546.0px;top:1460.9px;width:600px;font-size:24px;">Відділ освіти – 5,0</div>
<div class="t" style="left:2546.0px;top:1489.8px;width:600px;font-size:24px;">ДЖКГ - 24,75</div>
<div class="t" style="left:2546.0px;top:1518.7px;width:600px;font-size:24px;">УОЗ - 10,75</div>
<div class="t" style="left:2546.0px;top:1575.9px;width:600px;font-size:24px;font-weight:bold;">Всього – 244,5</div>
</div>
</body></html>
